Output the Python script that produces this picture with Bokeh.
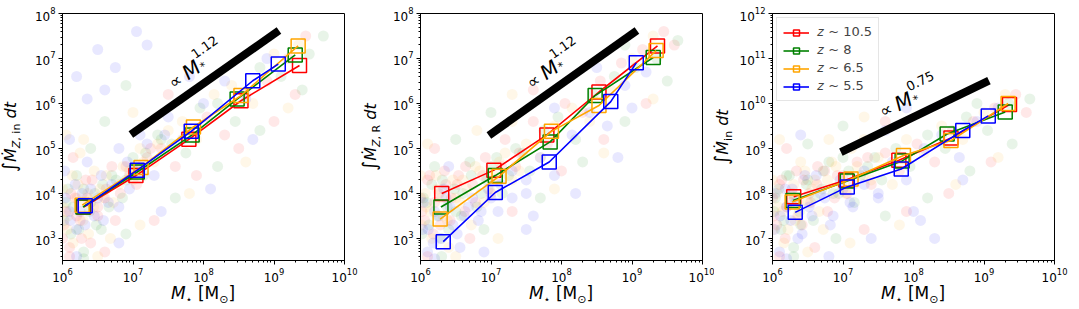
import math
from bokeh.plotting import figure
from bokeh.layouts import row, column
from bokeh.models import Label, Legend, LegendItem, Div, Spacer
from bokeh.embed import file_html
from bokeh.resources import INLINE

# ---------------- data ----------------
z_labels = ["𝑧 ~ 10.5", "𝑧 ~ 8", "𝑧 ~ 6.5", "𝑧 ~ 5.5"]
z_colors = ["red", "green", "orange", "blue"]

# binned stellar masses per redshift
mstar_z105 = [2.0e6, 1.1e7, 6.2e7, 3.4e8, 2.3e9]
mstar_z8 = [1.95e6, 1.15e7, 6.9e7, 3.0e8, 2.0e9]
mstar_z65 = [1.9e6, 1.3e7, 7.2e7, 3.4e8, 2.2e9]
mstar_z55 = [2.1e6, 1.15e7, 6.7e7, 5.0e8, 1.15e9]

# panel 1: integrated metal inflow
mz_in_z105 = [5.0e3, 2.5e4, 1.6e5, 1.15e6, 7.0e6]
mz_in_z8 = [5.0e3, 3.0e4, 2.0e5, 1.25e6, 1.2e7]
mz_in_z65 = [5.5e3, 3.8e4, 3.0e5, 1.5e6, 1.9e7]
mz_in_z55 = [5.3e3, 3.3e4, 2.4e5, 3.2e6, 7.5e6]

# panel 2: integrated metal return
mz_r_z105 = [1.0e4, 3.3e4, 2.0e5, 1.8e6, 1.9e7]
mz_r_z8 = [5.0e3, 2.5e4, 1.4e5, 1.5e6, 1.05e7]
mz_r_z65 = [2.7e3, 2.4e4, 2.4e5, 9.0e5, 1.5e7]
mz_r_z55 = [8.5e2, 1.05e4, 5.0e4, 1.1e6, 8.0e6]

# panel 3: integrated gas inflow
m_in_z105 = [8.5e7, 2.0e8, 5.5e8, 1.7e9, 9.5e9]
m_in_z8 = [7.0e7, 1.9e8, 5.3e8, 2.1e9, 6.5e9]
m_in_z65 = [6.5e7, 2.1e8, 7.0e8, 1.5e9, 1.0e10]
m_in_z55 = [3.8e7, 1.4e8, 3.5e8, 2.5e9, 5.3e9]

# power-law guide lines
guide_x = [10**6.97, 10**9.07]
guide_y1 = [10**5.31, 10**7.62]
guide_y2 = [10**5.29, 10**7.62]
guide_y3 = [10**8.92, 10**10.51]
guide_exp = ["1.12", "1.12", "0.75"]

# individual galaxies (log10 M*, log10 quantity), per redshift colour
cloud1 = {
    "red": [(6.02,3.3),(6.1,2.8),(6.18,3.9),(6.25,3.4),(6.33,4.3),(6.4,2.9),(6.5,3.7),(6.62,4.1),(6.75,3.4),(6.9,4.6),(7.05,4.2),(7.2,4.8),(7.4,5.0),(7.6,4.6),(7.8,5.4),(8.05,5.7),(8.3,5.3),(8.6,6.2),(8.9,6.5),(9.2,7.0),(9.45,7.5),(9.3,6.2),
            (6.0,3.0),(6.05,3.6),(6.12,4.0),(6.2,3.5),(6.27,3.0),(6.35,3.9),(6.42,4.3),(6.5,3.5),(6.6,3.9),(6.7,4.6),(6.82,4.0),(6.95,4.4),(7.1,4.6),(7.25,5.0),
            (6.1,2.6),(6.6,2.7),(7.3,3.4),(7.9,4.4),(6.15,4.8),(8.5,5.0),(9.0,5.6),(7.5,6.2)],
    "green": [(6.05,3.8),(6.12,3.1),(6.2,4.4),(6.3,2.7),(6.38,3.6),(6.46,4.0),(6.55,3.2),(6.7,4.4),(6.85,3.9),(7.0,4.8),(7.15,4.4),(7.35,5.3),(7.55,5.1),(7.75,4.9),(7.95,5.9),(8.2,6.0),(8.45,5.6),(8.8,6.8),(9.1,6.6),(9.5,7.1),(9.7,7.5),(6.9,6.4),
              (6.02,3.4),(6.08,4.1),(6.15,3.7),(6.23,3.2),(6.3,4.1),(6.4,3.8),(6.48,3.3),(6.57,4.2),(6.66,3.7),(6.76,4.3),(6.9,4.3),(7.02,4.5),(7.18,4.9),(7.4,5.2),
              (6.3,2.55),(6.9,3.1),(7.6,3.9),(8.2,4.6),(6.4,5.0),(8.8,5.4),(9.4,6.3),(6.6,5.6)],
    "orange": [(6.0,4.1),(6.08,3.5),(6.15,2.9),(6.22,4.2),(6.3,3.8),(6.37,3.1),(6.45,4.5),(6.58,3.9),(6.68,3.0),(6.8,4.2),(6.95,4.5),(7.1,5.0),(7.3,4.7),(7.5,5.4),(7.7,5.6),(7.9,5.2),(8.15,6.2),(8.4,6.4),(8.7,6.0),(9.0,7.1),(9.35,7.3),(6.3,5.2),
               (6.01,3.7),(6.07,3.2),(6.14,4.4),(6.21,3.9),(6.29,3.4),(6.36,4.0),(6.44,3.7),(6.53,4.1),(6.62,4.4),(6.72,3.8),(6.86,4.6),(7.0,4.3),(7.15,4.7),(7.35,5.1),
               (6.5,2.6),(7.1,3.3),(7.8,4.0),(8.6,4.7),(6.05,5.3),(9.2,5.9),(7.0,5.8),(6.25,4.9)],
    "blue": [(6.03,4.5),(6.1,3.6),(6.2,3.2),(6.28,4.0),(6.35,4.7),(6.45,3.5),(6.55,4.4),(6.65,3.8),(6.8,5.0),(6.95,4.1),(7.1,5.3),(7.3,4.4),(7.5,5.7),(7.7,5.2),(8.0,6.0),(8.3,6.5),(8.6,6.1),(8.9,7.0),(6.2,6.6),(6.5,7.2),(6.75,6.8),(7.05,7.6),(6.35,6.1),(7.2,7.3),
             (6.04,3.9),(6.11,3.4),(6.18,4.2),(6.25,3.6),(6.32,3.3),(6.4,4.1),(6.5,3.9),(6.58,3.4),(6.7,4.2),(6.8,3.7),(6.92,4.7),(7.05,4.6),(7.2,5.1),(7.45,5.3),
             (6.2,2.6),(6.8,2.9),(7.4,3.6),(8.1,4.1),(6.1,5.2),(8.7,5.2),(6.6,6.3),(7.8,6.6)],
}
cloud2 = {
    "red": [(6.02,3.6),(6.1,4.3),(6.18,3.1),(6.26,4.0),(6.34,4.5),(6.42,3.4),(6.52,4.2),(6.64,4.6),(6.78,3.8),(6.92,4.8),(7.06,4.3),(7.2,5.2),(7.4,4.9),(7.6,5.6),(7.8,5.1),(8.05,6.0),(8.3,5.8),(8.55,6.5),(8.85,6.9),(9.15,7.2),(9.45,7.6),(9.6,7.3),
            (6.0,3.9),(6.06,3.4),(6.13,4.4),(6.2,3.8),(6.28,3.3),(6.36,4.2),(6.44,3.9),(6.54,4.4),(6.63,3.6),(6.74,4.2),(6.88,4.4),(7.0,4.0),(7.15,4.6),(7.35,4.6),
            (6.1,2.6),(6.7,3.0),(7.3,3.6),(8.0,4.5),(6.2,5.0),(8.6,5.2),(9.2,6.0),(7.6,6.3)],
    "green": [(6.04,3.9),(6.12,3.3),(6.2,4.6),(6.3,3.0),(6.38,3.7),(6.48,4.1),(6.58,3.5),(6.72,4.4),(6.86,4.0),(7.0,4.6),(7.16,4.0),(7.35,5.0),(7.55,4.5),(7.75,5.4),(7.95,5.7),(8.2,5.2),(8.45,6.2),(8.75,6.6),(9.05,6.8),(9.35,7.0),(9.65,7.4),(8.9,7.3),
              (6.02,3.1),(6.09,3.8),(6.16,4.2),(6.24,3.5),(6.31,4.3),(6.4,3.2),(6.5,3.6),(6.6,4.0),(6.7,4.7),(6.8,3.7),(6.94,4.3),(7.08,4.8),(7.25,4.4),(7.45,4.9),
              (6.3,2.6),(6.9,3.2),(7.7,3.9),(8.3,4.7),(6.5,5.2),(8.9,5.6),(9.5,6.5),(7.0,5.8)],
    "orange": [(6.0,4.4),(6.08,3.7),(6.16,3.0),(6.24,4.1),(6.32,3.5),(6.4,2.8),(6.5,3.9),(6.6,4.3),(6.72,3.3),(6.84,4.5),(6.98,4.1),(7.12,4.7),(7.3,4.3),(7.5,5.1),(7.7,4.8),(7.9,5.5),(8.15,5.9),(8.4,5.6),(8.7,6.3),(9.0,7.0),(9.3,7.5),(7.3,5.6),
               (6.01,3.3),(6.07,4.0),(6.14,3.6),(6.22,4.4),(6.3,3.9),(6.38,3.4),(6.46,4.3),(6.56,3.8),(6.66,4.1),(6.78,4.6),(6.9,3.8),(7.04,4.4),(7.2,4.9),(7.4,4.5),
               (6.5,2.6),(7.1,3.0),(7.9,4.1),(8.6,4.9),(6.1,5.1),(9.3,6.1),(7.3,6.2),(6.8,5.4)],
    "blue": [(6.03,3.2),(6.1,2.7),(6.2,3.6),(6.28,3.0),(6.36,3.9),(6.46,3.3),(6.56,2.8),(6.68,3.7),(6.82,3.4),(6.96,4.1),(7.1,3.6),(7.3,4.5),(7.5,4.0),(7.7,4.8),(7.9,4.4),(8.15,5.3),(8.4,5.8),(8.65,5.5),(8.9,6.4),(9.2,6.7),(9.0,5.9),(7.6,3.5),
             (6.04,3.8),(6.11,3.2),(6.18,2.9),(6.26,3.5),(6.33,4.1),(6.42,3.7),(6.52,3.1),(6.62,3.5),(6.74,3.9),(6.86,3.6),(7.0,3.9),(7.14,4.2),(7.3,3.9),(7.5,4.3),
             (6.2,2.55),(6.9,2.7),(7.5,3.2),(8.2,4.0),(6.4,4.6),(8.8,4.8),(7.9,5.9),(8.5,6.8)],
}
cloud3 = {
    "red": [(6.02,7.5),(6.1,8.2),(6.18,7.0),(6.26,7.8),(6.34,8.5),(6.42,7.3),(6.52,8.0),(6.64,8.6),(6.78,7.6),(6.92,8.4),(7.06,8.0),(7.2,8.7),(7.4,8.2),(7.6,8.9),(7.8,8.5),(8.05,9.1),(8.3,8.7),(8.55,9.4),(8.85,9.6),(9.15,9.9),(9.45,10.2),(9.6,9.8),
            (6.0,7.9),(6.06,7.3),(6.13,8.3),(6.2,7.7),(6.28,8.0),(6.36,7.5),(6.44,8.3),(6.54,7.8),(6.63,8.2),(6.74,8.5),(6.88,7.9),(7.0,8.4),(7.15,8.2),(7.35,8.8),
            (6.1,6.6),(6.6,6.8),(7.3,7.2),(7.9,7.6),(6.2,9.0),(8.5,8.0),(9.1,8.7),(7.6,9.6)],
    "green": [(6.04,7.9),(6.12,7.2),(6.2,8.4),(6.3,6.8),(6.38,7.6),(6.48,8.2),(6.58,7.4),(6.72,8.5),(6.86,8.0),(7.0,8.8),(7.16,7.8),(7.35,8.6),(7.55,8.3),(7.75,9.0),(7.95,8.6),(8.2,9.3),(8.45,9.0),(8.75,9.7),(9.05,9.4),(9.35,10.0),(9.65,10.1),(8.9,10.0),
              (6.02,7.6),(6.09,8.1),(6.16,7.4),(6.24,8.4),(6.31,7.9),(6.4,7.3),(6.5,8.3),(6.6,7.9),(6.7,8.1),(6.8,8.7),(6.94,8.0),(7.08,8.5),(7.25,8.4),(7.45,8.8),
              (6.3,6.6),(6.9,7.0),(7.6,7.5),(8.2,7.9),(6.5,9.1),(8.8,8.5),(9.4,9.1),(7.0,9.5)],
    "orange": [(6.0,8.3),(6.08,7.7),(6.16,6.9),(6.24,8.0),(6.32,7.4),(6.4,8.7),(6.5,7.8),(6.6,8.3),(6.72,7.2),(6.84,8.7),(6.98,8.2),(7.12,9.0),(7.3,8.4),(7.5,8.8),(7.7,8.2),(7.9,9.2),(8.15,8.9),(8.4,9.5),(8.7,9.2),(9.0,9.8),(9.3,10.2),(7.3,9.2),
               (6.01,7.2),(6.07,8.0),(6.14,7.6),(6.22,7.2),(6.3,8.2),(6.38,7.8),(6.46,8.5),(6.56,8.1),(6.66,7.6),(6.78,8.3),(6.9,8.6),(7.04,8.0),(7.2,8.6),(7.4,8.3),
               (6.5,6.7),(7.1,6.9),(7.8,7.3),(8.6,8.2),(6.1,9.2),(9.2,8.8),(7.3,9.7),(6.8,9.2)],
    "blue": [(6.03,7.2),(6.1,6.7),(6.2,7.7),(6.28,8.1),(6.36,7.0),(6.46,8.4),(6.56,7.5),(6.68,8.0),(6.82,7.3),(6.96,8.3),(7.1,7.8),(7.3,8.5),(7.5,7.9),(7.7,8.7),(7.9,8.3),(8.15,9.0),(8.4,9.3),(8.65,8.8),(8.9,9.6),(9.2,9.9),(7.6,9.4),(8.0,7.6),
             (6.04,8.0),(6.11,7.5),(6.18,8.1),(6.26,7.4),(6.33,7.8),(6.42,7.1),(6.52,7.7),(6.62,8.4),(6.74,7.9),(6.86,7.5),(7.0,8.1),(7.14,7.7),(7.3,8.2),(7.5,8.0),
             (6.2,6.55),(6.8,6.6),(7.4,7.0),(8.1,7.4),(6.4,9.3),(8.7,8.3),(7.9,9.9),(8.3,7.0)],
}

mstar_all = [mstar_z105, mstar_z8, mstar_z65, mstar_z55]
panel_series = [
    [mz_in_z105, mz_in_z8, mz_in_z65, mz_in_z55],
    [mz_r_z105, mz_r_z8, mz_r_z65, mz_r_z55],
    [m_in_z105, m_in_z8, m_in_z65, m_in_z55],
]
panel_clouds = [cloud1, cloud2, cloud3]
panel_guides = [guide_y1, guide_y2, guide_y3]
panel_yrange = [(10**2.51, 1e8), (10**2.51, 1e8), (10**6.51, 1e12)]
panel_ylabel_sub = ["<i>Z</i>, in", "<i>Z</i>, R", "in"]
xlabel_html = "<i>M</i><sub style='font-size:11px'>⋆</sub>&nbsp;[M<sub style='font-size:11px'>⊙</sub>]"

# ---------------- layout / style ----------------
FONT = "DejaVu Sans"
FRAME_W, FRAME_H = 282, 247
FIG_L, FIG_T, FIG_B = 36, 13, 24
ylab_w = [26, 22, 22]
fig_r = [18, 12, 14]
XLAB_H = 24


def add_parts(p, x, y, parts, angle):
    ca, sa = math.cos(angle), math.sin(angle)
    for text, size, style, d, h in parts:
        p.add_layout(Label(x=x, y=y, x_offset=d * ca - h * sa,
                           y_offset=d * sa + h * ca, text=text,
                           angle=angle, text_font=FONT,
                           text_font_size=f"{size}px", text_font_style=style,
                           text_color="black", text_align="left",
                           text_baseline="alphabetic"))


panels = []
for i in range(3):
    yr = panel_yrange[i]
    fig_h = FIG_T + FRAME_H + FIG_B
    p = figure(width=FIG_L + FRAME_W + fig_r[i], height=fig_h,
               x_axis_type="log", y_axis_type="log",
               x_range=(1e6, 1e10), y_range=yr,
               min_border_left=FIG_L, min_border_right=fig_r[i],
               min_border_top=FIG_T, min_border_bottom=FIG_B,
               output_backend="svg", toolbar_location=None)
    p.xgrid.visible = False
    p.ygrid.visible = False
    p.outline_line_color = "black"
    p.outline_line_width = 1
    p.outline_line_alpha = 1
    for ax in (p.xaxis[0], p.yaxis[0]):
        ax.axis_line_color = "black"
        ax.major_tick_line_color = "black"
        ax.minor_tick_line_color = "black"
        ax.major_tick_in = 0
        ax.major_tick_out = 4
        ax.minor_tick_in = 0
        ax.minor_tick_out = 2
        ax.major_label_text_font = FONT
        ax.major_label_text_font_size = "12px"
        ax.major_label_text_color = "black"
        ax.major_label_standoff = 3

    # individual galaxies
    cloud = panel_clouds[i]
    for c in z_colors:
        pts = cloud[c]
        p.scatter([10**a for a, b in pts], [10**b for a, b in pts], size=11,
                  fill_color=c, fill_alpha=0.09, line_color=None)

    # guide line
    p.line(guide_x, panel_guides[i], line_color="black", line_width=8)

    items = []
    for j, c in enumerate(z_colors):
        lr = p.line(mstar_all[j], panel_series[i][j], line_color=c, line_width=1.6)
        sr = p.scatter(mstar_all[j], panel_series[i][j], marker="square", size=14,
                       fill_color=None, line_color=c, line_width=1.5)
        items.append(LegendItem(label=z_labels[j], renderers=[lr, sr]))

    if i == 2:
        leg = Legend(items=items, location="top_left", label_text_font=FONT,
                     label_text_font_size="13px", glyph_width=26, glyph_height=15,
                     label_standoff=8, spacing=2, padding=6, margin=4,
                     border_line_color="#cccccc", border_line_width=1,
                     background_fill_alpha=0.8)
        p.add_layout(leg)

    # power-law annotation
    ang = math.radians(35.0 if i < 2 else 25.8)
    anchor_y = 10**6.42 if i < 2 else 10**9.8
    add_parts(p, 10**7.53, anchor_y, [
        ("∝", 17, "normal", 0, 0),
        ("M", 20, "italic", 17, 0),
        ("*", 11, "normal", 35, -4),
        (guide_exp[i], 13, "normal", 35, 11),
    ], ang)

    # y-axis label (rotated HTML text)
    ycen = FIG_T + FRAME_H / 2
    ylab_html = ("<span style='font-size:19px'>∫</span><i>Ṁ</i>"
                 "<sub style='font-size:11px'>" + panel_ylabel_sub[i] +
                 "</sub>&nbsp;<i>dt</i>")
    ydiv = Div(width=ylab_w[i], height=fig_h, margin=0, text=(
        f"<div style=\"position:relative;width:{ylab_w[i]}px;height:{fig_h}px;\">"
        f"<div style=\"position:absolute;left:50%;top:{ycen}px;"
        "transform:translate(-50%,-50%) rotate(-90deg);white-space:nowrap;"
        f"font-family:'{FONT}';font-size:16px;line-height:16px;color:black;\">"
        f"{ylab_html}</div></div>"))

    # x-axis label
    xdiv = Div(width=FRAME_W, height=XLAB_H, margin=0, text=(
        f"<div style=\"width:{FRAME_W}px;height:{XLAB_H}px;text-align:center;"
        f"white-space:nowrap;font-family:'{FONT}';font-size:17px;line-height:16px;"
        f"color:black;padding-top:1px;\">{xlabel_html}</div>"))
    xrow = row(Spacer(width=ylab_w[i] + FIG_L, height=XLAB_H, margin=0), xdiv,
               Spacer(width=fig_r[i], height=XLAB_H, margin=0))
    panels.append(column(row(ydiv, p), xrow))

layout = row(*panels)
open("out.html", "w").write(file_html(layout, INLINE))
